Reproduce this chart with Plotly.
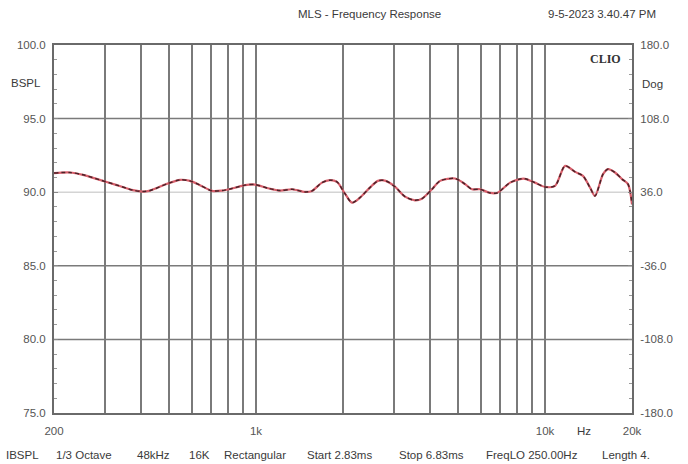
import plotly.graph_objects as go

freq_hz = [200, 227, 252, 288, 330, 375, 406, 430, 492, 546, 591, 640, 705, 762, 826, 916,
           993, 1100, 1211, 1333, 1478, 1563, 1691, 1803, 1906, 2032, 2148, 2290, 2478, 2642,
           2794, 3025, 3278, 3549, 3751, 4064, 4335, 4886, 5286, 5587, 5957, 6454, 6824, 7570,
           8191, 8530, 9228, 10000, 10835, 11737, 12715, 13530, 14320, 14895, 15880, 16530,
           17470, 18460, 19370, 20000]
spl_db = [91.30, 91.34, 91.18, 90.84, 90.48, 90.14, 90.04, 90.11, 90.57, 90.84, 90.77, 90.48,
          90.09, 90.11, 90.25, 90.48, 90.52, 90.27, 90.11, 90.20, 90.02, 90.09, 90.65, 90.82,
          90.70, 89.90, 89.29, 89.63, 90.31, 90.77, 90.79, 90.38, 89.70, 89.45, 89.56, 90.20,
          90.77, 90.93, 90.55, 90.20, 90.20, 89.95, 89.95, 90.65, 90.89, 90.91, 90.65, 90.36,
          90.43, 91.79, 91.38, 91.11, 90.31, 89.75, 91.23, 91.57, 91.34, 90.89, 90.55, 89.18]

x_grid = [200, 300, 400, 500, 600, 700, 800, 900, 1000, 2000, 3000, 4000, 5000, 6000,
          7000, 8000, 9000, 10000, 20000]
x_labels = ["200", "", "", "", "", "", "", "", "1k", "", "", "", "", "", "", "", "", "10k", "20k"]
y_ticks = [75, 80, 85, 90, 95, 100]
y_labels = ["75.0", "80.0", "85.0", "90.0", "95.0", "100.0"]
y_dark_grid = [80, 85, 95]
y_light_grid = [90]
deg_ticks = [-180, -108, -36, 36, 108, 180]
deg_labels = ["-180.0", "-108.0", "-36.0", "36.0", "108.0", "180.0"]

info_texts = ["IBSPL", "1/3 Octave", "48kHz", "16K", "Rectangular", "Start 2.83ms",
              "Stop 6.83ms", "FreqLO 250.00Hz", "Length 4."]
info_x = [4, 54, 135, 187, 222, 305, 397, 484, 600]

FONT = "Liberation Sans, Arial, sans-serif"
TXT = "#3a3a3a"

fig = go.Figure()
fig.add_trace(go.Scatter(x=freq_hz, y=spl_db, mode="lines",
                         line=dict(color="#d8606c", width=2.2, shape="spline", smoothing=0.8),
                         hoverinfo="skip", showlegend=False))
fig.add_trace(go.Scatter(x=freq_hz, y=spl_db, mode="lines",
                         line=dict(color="#4a2228", width=1.5, dash="4px,3px",
                                   shape="spline", smoothing=0.8),
                         hoverinfo="skip", showlegend=False))
# invisible trace for the right axis
fig.add_trace(go.Scatter(x=[freq_hz[0]], y=[0], yaxis="y2", mode="markers",
                         marker=dict(opacity=0), hoverinfo="skip", showlegend=False))

shapes = []
for v in y_dark_grid:
    shapes.append(dict(type="line", xref="paper", x0=0, x1=1, yref="y", y0=v, y1=v,
                       line=dict(color="#7a7a7a", width=1.5), layer="below"))
for v in y_light_grid:
    shapes.append(dict(type="line", xref="paper", x0=0, x1=1, yref="y", y0=v, y1=v,
                       line=dict(color="#d4d4d4", width=1.5), layer="below"))

annotations = [
    dict(text="MLS - Frequency Response", x=370, y=450),
    dict(text="9-5-2023 3.40.47 PM", x=602, y=450),
    dict(text="BSPL", x=26, y=381),
    dict(text="Dog", x=652, y=380),
    dict(text="Hz", x=584, y=33),
]
ann = []
for a in annotations:
    ann.append(dict(text=a["text"], x=a["x"] / 688, y=a["y"] / 464, xref="paper", yref="paper",
                    showarrow=False, xanchor="center", yanchor="middle",
                    font=dict(family=FONT, size=11.5, color=TXT)))
ann.append(dict(text="<b>CLIO</b>", x=605 / 688, y=(464 - 59) / 464, xref="paper", yref="paper",
                showarrow=False, xanchor="center", yanchor="middle",
                font=dict(family="Liberation Serif, Times New Roman, serif", size=12, color="#333")))
for t, xs in zip(info_texts, info_x):
    ann.append(dict(text=t, x=xs / 688, y=(464 - 455) / 464, xref="paper", yref="paper",
                    showarrow=False, xanchor="left", yanchor="middle",
                    font=dict(family=FONT, size=11.5, color=TXT)))

# convert figure-relative coords -> plot-area-relative paper coords
L, R, T, B = 54, 56, 45, 51
W, H = 688, 464
pw, ph = W - L - R, H - T - B
for a in ann:
    px = a["x"] * W
    py = a["y"] * H
    a["x"] = (px - L) / pw
    a["y"] = (py - B) / ph

fig.update_layout(
    width=W, height=H,
    margin=dict(l=L, r=R, t=T, b=B, pad=0),
    paper_bgcolor="white", plot_bgcolor="white",
    font=dict(family=FONT, size=11.5, color=TXT),
    shapes=shapes, annotations=ann,
    xaxis=dict(type="log", range=[2.30103, 4.30103], tickvals=x_grid, ticktext=x_labels,
               showgrid=True, gridcolor="#7a7a7a", gridwidth=1.5, zeroline=False,
               showline=True, linecolor="#6a6a6a", linewidth=2, mirror=True,
               ticks="", ticklabelstandoff=6, tickfont=dict(size=11.5, color="#555")),
    yaxis=dict(range=[75, 100], tickvals=y_ticks, ticktext=y_labels, showgrid=False,
               zeroline=False, showline=True, linecolor="#6a6a6a", linewidth=2,
               ticks="inside", ticklen=4, tickcolor="#888",
               minor=dict(ticks="inside", dtick=1, ticklen=3, tickcolor="#999", showgrid=False),
               ticklabelstandoff=4, tickfont=dict(size=11.5, color="#555")),
    yaxis2=dict(range=[-180, 180], overlaying="y", side="right", tickvals=deg_ticks,
                ticktext=deg_labels, showgrid=False, zeroline=False, showline=True,
                linecolor="#6a6a6a", linewidth=2, ticks="inside", ticklen=4, tickcolor="#888",
                minor=dict(ticks="inside", tick0=-180, dtick=14.4, ticklen=3, tickcolor="#999",
                           showgrid=False),
                ticklabelstandoff=4, tickfont=dict(size=11.5, color="#555")),
)

fig.write_html("out.html", config={"displayModeBar": False},
               post_script="document.body.style.margin='0px';document.body.style.overflow='hidden';")
